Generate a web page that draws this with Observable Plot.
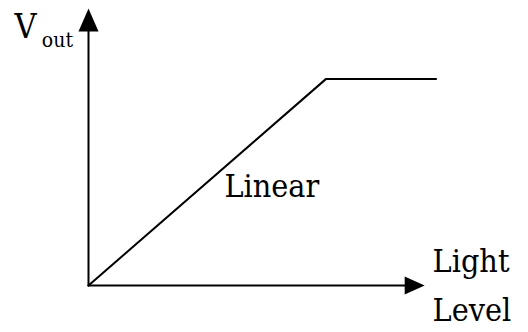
<!DOCTYPE html>
<html>
<head>
<meta charset="utf-8">
<script src="https://cdn.jsdelivr.net/npm/d3@7"></script>
<script src="https://cdn.jsdelivr.net/npm/@observablehq/plot@0.6"></script>
<style>
  html, body { margin: 0; padding: 0; background: #fff; }
  svg { display: block; }
</style>
</head>
<body>
<div id="chart"></div>
<script>
// Conceptual transfer curve: light level (x) vs output voltage (y), arbitrary units
const curveX = [0, 54, 79];
const curveY = [0, 72.5, 72.5];
// Axis extents (arrow tips)
const xAxisEnd = 76.4;
const yAxisEnd = 97.2;
// Labels
const labelTexts = ["Linear", "Light\nLevel"];
const labelX = [30.9, 78.2];
const labelY = [30.9, -12.6];
const yTitleMain = "V";
const yTitleSub = "out";
const yTitlePos = [-16.8, 87.0];
const yTitleSubPos = [-10.6, 83.8];

const curve = curveX.map((x, i) => ({x, y: curveY[i]}));
const labels = labelTexts.map((t, i) => ({t, x: labelX[i], y: labelY[i]}));

const upArrow = {draw(ctx) { ctx.moveTo(0, 0); ctx.lineTo(10, 23); ctx.lineTo(-10, 23); ctx.closePath(); }};
const rightArrow = {draw(ctx) { ctx.moveTo(0, 0); ctx.lineTo(-20, -9); ctx.lineTo(-20, 9); ctx.closePath(); }};
const serif = "DejaVu Serif Condensed";

const chart = Plot.plot({
  width: 528,
  height: 332,
  marginLeft: 88,
  marginRight: 0,
  marginTop: 0,
  marginBottom: 47,
  x: {domain: [0, 100], axis: null},
  y: {domain: [0, 100], axis: null},
  style: {background: "#fff"},
  marks: [
    Plot.line([{x: 0, y: 0}, {x: xAxisEnd - 2, y: 0}], {x: "x", y: "y", stroke: "#000", strokeWidth: 2}),
    Plot.line([{x: 0, y: 0}, {x: 0, y: yAxisEnd - 3}], {x: "x", y: "y", stroke: "#000", strokeWidth: 2}),
    Plot.dot([{x: xAxisEnd, y: 0}], {x: "x", y: "y", symbol: rightArrow, fill: "#000", stroke: "none"}),
    Plot.dot([{x: 0, y: yAxisEnd}], {x: "x", y: "y", symbol: upArrow, fill: "#000", stroke: "none"}),
    Plot.line(curve, {x: "x", y: "y", stroke: "#000", strokeWidth: 2, strokeLinejoin: "miter"}),
    Plot.text(labels, {x: "x", y: "y", text: "t", textAnchor: "start", lineAnchor: "bottom", lineHeight: 1.55, fontSize: 32, fontFamily: serif, fill: "#000"}),
    Plot.text([yTitleMain], {x: yTitlePos[0], y: yTitlePos[1], textAnchor: "start", lineAnchor: "bottom", fontSize: 34, fontFamily: serif, fill: "#000"}),
    Plot.text([yTitleSub], {x: yTitleSubPos[0], y: yTitleSubPos[1], textAnchor: "start", lineAnchor: "bottom", fontSize: 21, fontFamily: serif, fill: "#000"})
  ]
});
document.getElementById("chart").appendChild(chart);
</script>
</body>
</html>
